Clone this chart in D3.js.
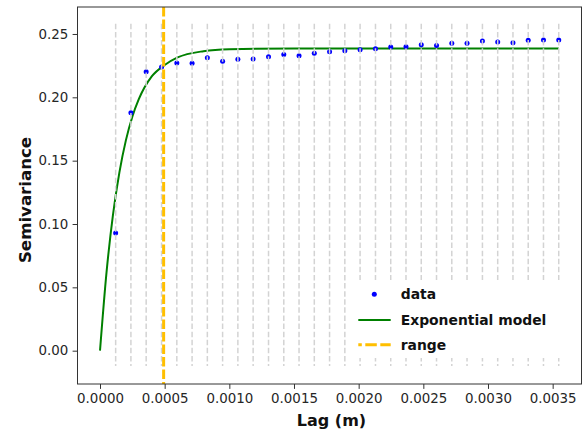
<!DOCTYPE html>
<html>
<head>
<meta charset="utf-8">
<script src="https://cdn.jsdelivr.net/npm/d3@7"></script>
<style>
  html, body { margin: 0; padding: 0; background: #fff; }
  svg { display: block; }
</style>
</head>
<body>
<script>
// ---- data ----
const lags = [0.000121, 0.000239, 0.000357, 0.000476, 0.000594, 0.000712, 0.000830, 0.000948,
  0.001066, 0.001184, 0.001303, 0.001421, 0.001539, 0.001657, 0.001775, 0.001893, 0.002011,
  0.002130, 0.002248, 0.002366, 0.002484, 0.002602, 0.002720, 0.002838, 0.002957, 0.003075,
  0.003193, 0.003311, 0.003429, 0.003547];
const semivariance = [0.0929, 0.1879, 0.2202, 0.2239, 0.2271, 0.2268, 0.2313, 0.2284,
  0.2300, 0.2302, 0.2321, 0.2339, 0.2328, 0.2347, 0.2360, 0.2368, 0.2376,
  0.2384, 0.2397, 0.2399, 0.2415, 0.2410, 0.2426, 0.2426, 0.2444, 0.2436,
  0.2431, 0.2450, 0.2452, 0.2452];
// fitted exponential model curve
const modelLags = [0, 0.00005, 0.0001, 0.00015, 0.0002, 0.00025, 0.0003, 0.0004, 0.0005,
  0.0006, 0.0008, 0.001, 0.0015, 0.002, 0.003, 0.003547];
const modelValues = [0, 0.0614, 0.1070, 0.1408, 0.1660, 0.1847, 0.1985, 0.2165, 0.2255,
  0.2315, 0.2364, 0.2379, 0.2385, 0.2385, 0.2385, 0.2385];
const rangeLag = 0.000492;
const binLineSpan = [-0.012, 0.258];
const xTicks = [0, 0.0005, 0.001, 0.0015, 0.002, 0.0025, 0.003, 0.0035];
const yTicks = [0, 0.05, 0.10, 0.15, 0.20, 0.25];
const legendLabels = ["data", "Exponential model", "range"];
const xLabel = "Lag (m)";
const yLabel = "Semivariance";

// ---- layout ----
const W = 583, H = 430;
const L = 77.5, R = 581.5, T = 7, B = 384;

const svg = d3.select("body").append("svg").attr("width", W).attr("height", H);

const x = d3.scaleLinear().domain([-0.000174, 0.003723]).range([L, R]);
const y = d3.scaleLinear().domain([-0.0263, 0.2713]).range([B, T]);

const plot = svg.append("g");
// clip to the axes area
svg.append("defs").append("clipPath").attr("id", "clip")
  .append("rect").attr("x", L).attr("y", T).attr("width", R - L).attr("height", B - T);
plot.attr("clip-path", "url(#clip)");

// model curve
const line = d3.line().x(d => x(d[0])).y(d => y(d[1])).curve(d3.curveMonotoneX);
plot.append("path")
  .datum(modelLags.map((l, i) => [l, modelValues[i]]))
  .attr("d", line)
  .attr("fill", "none").attr("stroke", "#008000").attr("stroke-width", 2);

// data points
plot.selectAll("circle.pt").data(lags).enter().append("circle")
  .attr("class", "pt")
  .attr("cx", d => x(d)).attr("cy", (d, i) => y(semivariance[i]))
  .attr("r", 2.5).attr("fill", "#0000ff");

// bin lines (light grey dashed)
plot.selectAll("line.bin").data(lags).enter().append("line")
  .attr("class", "bin")
  .attr("x1", d => x(d)).attr("x2", d => x(d))
  .attr("y1", y(binLineSpan[1])).attr("y2", y(binLineSpan[0]))
  .attr("stroke", "#d3d3d3").attr("stroke-width", 1.5)
  .attr("stroke-dasharray", "5.5,2.6");

// range line
plot.append("line")
  .attr("x1", x(rangeLag)).attr("x2", x(rangeLag))
  .attr("y1", T).attr("y2", B)
  .attr("stroke", "#ffbf00").attr("stroke-width", 3)
  .attr("stroke-dasharray", "9.5,3");

// legend (white box, no border)
const lg = svg.append("g");
lg.append("rect").attr("x", 350).attr("y", 280).attr("width", 218).attr("height", 78).attr("fill", "#fff");
const legY = [294.3, 320, 344.8];
lg.append("circle").attr("cx", 374.3).attr("cy", legY[0]).attr("r", 2.5).attr("fill", "#0000ff");
lg.append("line").attr("x1", 358.3).attr("x2", 390.7).attr("y1", legY[1]).attr("y2", legY[1])
  .attr("stroke", "#008000").attr("stroke-width", 2.2);
lg.append("line").attr("x1", 358.3).attr("x2", 390.7).attr("y1", legY[2]).attr("y2", legY[2])
  .attr("stroke", "#ffbf00").attr("stroke-width", 3).attr("stroke-dasharray", "3.5,3.5,11.5,3.5,11.5,3.5");
lg.selectAll("text").data(legendLabels).enter().append("text")
  .attr("x", 400.7).attr("y", (d, i) => legY[i] + 5)
  .attr("font-family", "DejaVu Sans").attr("font-weight", "bold").attr("font-size", 13.9)
  .attr("fill", "#111").text(d => d);

// axes frame
svg.append("rect").attr("x", L).attr("y", T).attr("width", R - L).attr("height", B - T)
  .attr("fill", "none").attr("stroke", "#333").attr("stroke-width", 1);

const xAxis = svg.append("g").attr("transform", `translate(0,${B})`)
  .call(d3.axisBottom(x).tickValues(xTicks).tickFormat(d3.format(".4f")).tickSize(4.9).tickPadding(5));
const yAxis = svg.append("g").attr("transform", `translate(${L},0)`)
  .call(d3.axisLeft(y).tickValues(yTicks).tickFormat(d3.format(".2f")).tickSize(4.9).tickPadding(4.3));
[xAxis, yAxis].forEach(a => {
  a.select(".domain").remove();
  a.selectAll(".tick line").attr("stroke", "#333").attr("stroke-width", 1);
  a.selectAll(".tick text").attr("font-family", "DejaVu Sans").attr("font-size", 13.4).attr("fill", "#262626");
});

// axis labels
svg.append("text").attr("x", 331.5).attr("y", 425.5).attr("text-anchor", "middle")
  .attr("font-family", "DejaVu Sans").attr("font-weight", "bold").attr("font-size", 16)
  .attr("fill", "#111").text(xLabel);
svg.append("text").attr("transform", "translate(30.5,200) rotate(-90)").attr("text-anchor", "middle")
  .attr("font-family", "DejaVu Sans").attr("font-weight", "bold").attr("font-size", 16.6)
  .attr("fill", "#111").text(yLabel);
</script>
</body>
</html>
